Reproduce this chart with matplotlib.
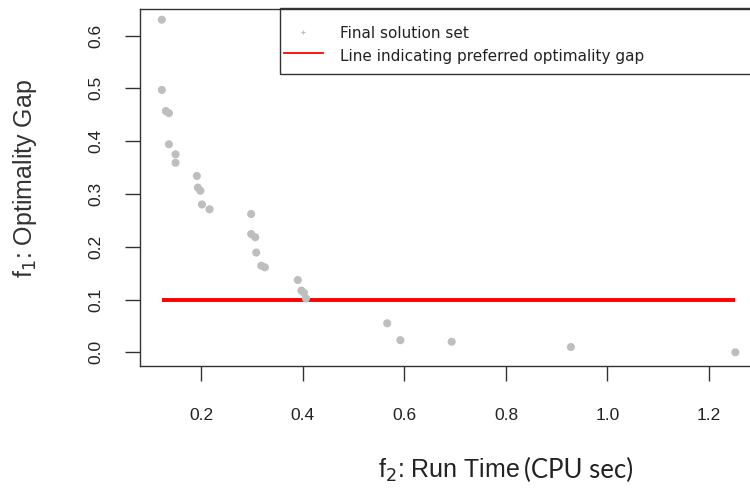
import matplotlib
matplotlib.use("Agg")
import matplotlib.pyplot as plt
from matplotlib.patches import Rectangle
from matplotlib.lines import Line2D

# final solution set: run time (CPU sec) vs optimality gap
run_time = [0.122, 0.122, 0.130, 0.136, 0.136, 0.149, 0.149, 0.191, 0.193, 0.198,
            0.201, 0.216, 0.298, 0.298, 0.306, 0.308, 0.318, 0.325, 0.390, 0.397,
            0.402, 0.406, 0.566, 0.592, 0.693, 0.928, 1.252]
opt_gap = [0.630, 0.497, 0.457, 0.453, 0.394, 0.375, 0.359, 0.334, 0.312, 0.306,
           0.280, 0.271, 0.262, 0.224, 0.218, 0.189, 0.164, 0.161, 0.137, 0.117,
           0.113, 0.102, 0.055, 0.023, 0.020, 0.010, 0.000]
preferred_gap = 0.1

x_ticks = [0.2, 0.4, 0.6, 0.8, 1.0, 1.2]
y_ticks = [0.0, 0.1, 0.2, 0.3, 0.4, 0.5, 0.6]
legend_labels = ["Final solution set", "Line indicating preferred optimality gap"]

plt.rcParams['font.family'] = ['Liberation Sans', 'DejaVu Sans']

W, H = 750, 491
fig = plt.figure(figsize=(W / 100, H / 100), dpi=100)
ax = fig.add_axes([0.186, 0.2546, 0.8236, 0.727])


def px(x, y):
    # figure pixel (from top-left) -> figure fraction
    return x / W, 1 - y / H


ax.scatter(run_time, opt_gap, s=34, color='#bebebe', edgecolors='none', zorder=3)
ax.plot([min(run_time), max(run_time)], [preferred_gap, preferred_gap],
        color='#ff0000', lw=2.8, zorder=2, solid_capstyle='butt')

ax.set_xlim(0.078, 1.295)
ax.set_ylim(-0.0259, 0.6502)
ax.set_xticks(x_ticks)
ax.set_xticklabels([f"{t:.1f}" for t in x_ticks])
ax.set_yticks(y_ticks)
ax.set_yticklabels([f"{t:.1f}" for t in y_ticks], rotation=90, va='center')

ax.tick_params(axis='both', direction='out', length=11, width=1, color='#333333',
               labelsize=12.5, labelcolor='#222222')
ax.tick_params(axis='x', pad=19)
ax.tick_params(axis='y', pad=15)
for sp in ax.spines.values():
    sp.set_linewidth(1)
    sp.set_color('#333333')

# axis titles
fig.text(*px(25, 178), "f$_1$: Optimality Gap", fontsize=18, color='#333333',
         rotation=90, ha='center', va='center')
fig.text(*px(378, 478), "f$_2$: Run Time", fontsize=18, color='#222222',
         ha='left', va='baseline')
fig.text(*px(524, 478), "(CPU sec)", fontsize=18.5, color='#222222',
         family=['Lato', 'DejaVu Sans'], ha='left', va='baseline')

# legend box (top right of the plot region)
x0, y0 = px(280, 74)
x1, y1 = px(760, 8)
fig.patches.append(Rectangle((x0, y0), x1 - x0, y1 - y0, transform=fig.transFigure,
                             fill=False, edgecolor='#333333', lw=1, clip_on=False))
fig.lines.append(Line2D(*zip(px(303, 32)), transform=fig.transFigure, ls='none',
                        marker='+', ms=3, mew=0.8, color='#bebebe'))
fig.lines.append(Line2D(*zip(px(284, 53), px(323, 53)), transform=fig.transFigure,
                        color='#ff0000', lw=1.3))
fig.text(*px(340, 34), legend_labels[0], fontsize=11, color='#222222',
         family=['DejaVu Sans'], ha='left', va='center')
fig.text(*px(340, 56), legend_labels[1], fontsize=11, color='#222222',
         family=['DejaVu Sans'], ha='left', va='center')

fig.savefig("out.png", dpi=100)
